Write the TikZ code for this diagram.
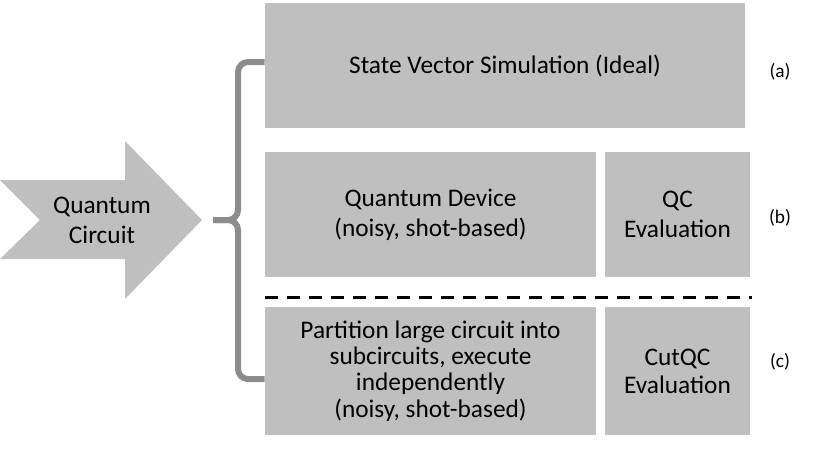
\documentclass[tikz,border=0pt]{standalone}
\usepackage{fontspec}
\setmainfont{Carlito}
\usepackage{tikz}
\usetikzlibrary{positioning,calc}
\definecolor{boxgray}{HTML}{BFBFBF}
\definecolor{bracegray}{HTML}{8C8C8C}

\begin{document}
\begin{tikzpicture}[x=0.75pt,y=-0.75pt,
    block/.style={fill=boxgray, inner sep=0pt, align=center, minimum height=93.75pt, font=\fontsize{19}{22.5}\selectfont},
    tag/.style={font=\fontsize{14.5}{17}\selectfont},
    brace/.style={draw=bracegray, line width=4.5pt, rounded corners=7.5pt},
    cutline/.style={line width=2.25pt, dash pattern=on 9.75pt off 6.75pt}]
    \useasboundingbox (0,0) rectangle (830,449);

    % input arrow
    \fill[boxgray] (0,180) -- (125,180) -- (125,141) -- (202,220) -- (125,299) -- (125,259) -- (0,259) -- (40,220) -- cycle;
    \node[font=\fontsize{19}{22.5}\selectfont, align=center] (qc) at (102,220) {Quantum\\Circuit};

    % (a)
    \node[block, minimum width=360pt] (sv) at (505,65.5) {State Vector Simulation (Ideal)};
    % (b)
    \node[block, minimum width=248.25pt] (qd) at (430.5,214.5) {Quantum Device\\(noisy, shot-based)};
    \node[block, minimum width=108.75pt] (qceval) at (677.5,214.5) {QC\\Evaluation};
    % (c)
    \node[block, minimum width=248.25pt, minimum height=96pt, font=\fontsize{19}{19.7}\selectfont] (cp) at (430.5,371) {Partition large circuit into\\subcircuits, execute\\independently\\(noisy, shot-based)};
    \node[block, minimum width=108.75pt, minimum height=96pt, font=\fontsize{19}{21}\selectfont] (cuteval) at (677.5,371) {CutQC\\Evaluation};

    \coordinate (cutl) at (265,297.5);
    \coordinate (cutr) at (752,297.5);
    \draw[cutline] (cutl) -- (cutr);

    % brace
    \coordinate (tip) at (213,220);
    \coordinate (mid) at (238,220);
    \draw[brace] ([yshift=2.6pt]sv.west) -| (mid) -- (tip);
    \draw[brace] ([yshift=-6pt]cp.west) -| (mid) -- (tip);

    \node[tag] (taga) at (780,72) {(a)};
    \node[tag] (tagb) at (780,218) {(b)};
    \node[tag] (tagc) at (780,362) {(c)};
\end{tikzpicture}
\end{document}
